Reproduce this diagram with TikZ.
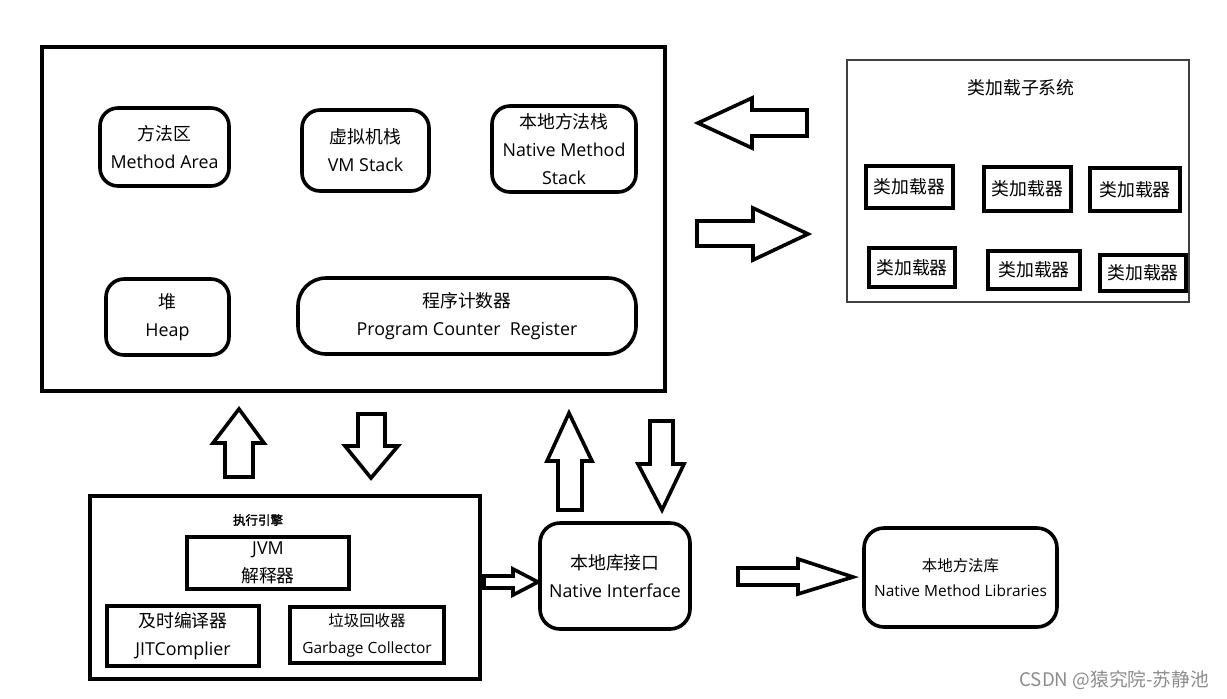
\documentclass[tikz,border=0pt]{standalone}
\usepackage{fontspec}
\setmainfont{Open Sans}
\newfontfamily\cjk{Noto Sans CJK SC}
\newfontfamily\cjkbold[FakeBold=2]{Noto Sans CJK SC}

\begin{document}
\begin{tikzpicture}[x=0.25mm, y=-0.25mm,
    frame/.style={draw, line width=1mm},
    area/.style={draw, line width=0.9mm, rounded corners=4.5mm, align=center, inner sep=1pt, font=\fontsize{12.7}{20}\selectfont},
    sqbox/.style={draw, line width=1mm, align=center, inner sep=1pt, font=\fontsize{12.7}{19.5}\selectfont},
    loader/.style={draw, line width=1mm, inner sep=0pt, font=\cjk\fontsize{12.7}{15}\selectfont},
    blockarrow/.style={draw, line width=0.9mm, line join=miter}]
	\useasboundingbox (0,0) rectangle (1227,698);

	\node[frame, minimum width=155.75mm, minimum height=86mm] (rda) at (353.5,219) {};
	\node[area, minimum width=32.25mm, minimum height=19.5mm] (method) at (164.5,147) {{\cjk 方法区}\\Method Area};
	\node[area, minimum width=31.75mm, minimum height=20.25mm] (vmstack) at (365.5,150.5) {{\cjk 虚拟机栈}\\VM Stack};
	\node[area, minimum width=36mm, minimum height=21.5mm] (nstack) at (564,149) {{\cjk 本地方法栈}\\Native Method\\Stack};
	\node[area, minimum width=30.75mm, minimum height=19mm] (heap) at (167.5,317) {{\cjk 堆}\\Heap};
	\node[area, rounded corners=7mm, minimum width=84.5mm, minimum height=19mm] (pcr) at (467,316) {{\cjk 程序计数器}\\Program Counter\ \ Register};

	\node[draw=black!75, line width=0.4mm, minimum width=85.5mm, minimum height=60.5mm] (cls) at (1018,181) {};
	\node[font=\cjk\fontsize{12.7}{15}\selectfont] (clstitle) at (1021,88) {类加载子系统};
	\node[loader, minimum width=21.75mm, minimum height=10.5mm] (l1) at (909.5,187) {类加载器};
	\node[loader, minimum width=21.75mm, minimum height=11mm] (l2) at (1027.5,189) {类加载器};
	\node[loader, minimum width=22.5mm, minimum height=10.75mm] (l3) at (1135,189.5) {类加载器};
	\node[loader, minimum width=21.5mm, minimum height=9.75mm] (l4) at (912,267.5) {类加载器};
	\node[loader, minimum width=23mm, minimum height=9.5mm] (l5) at (1034,270) {类加载器};
	\node[loader, minimum width=21.5mm, minimum height=9mm] (l6) at (1143,273) {类加载器};

	\node[frame, minimum width=97.5mm, minimum height=45.75mm] (engine) at (285,587.5) {};
	\node[font=\cjkbold\fontsize{8.9}{10}\selectfont] (etitle) at (258,520) {执行引擎};
	\node[sqbox, minimum width=40.5mm, minimum height=13mm] (jvm) at (268,563) {JVM\\{\cjk 解释器}};
	\node[sqbox, minimum width=38mm, minimum height=15mm] (jit) at (183,636) {{\cjk 及时编译器}\\JITComplier};
	\node[sqbox, font=\fontsize{11}{19}\selectfont, minimum width=38.5mm, minimum height=14mm] (gc) at (367,635) {{\cjk 垃圾回收器}\\Garbage Collector};

	\node[area, rounded corners=5mm, minimum width=37.5mm, minimum height=26.5mm] (ni) at (615,576) {{\cjk 本地库接口}\\Native Interface};
	\node[area, font=\fontsize{11}{18}\selectfont, rounded corners=5mm, minimum width=48.25mm, minimum height=24.75mm] (nml) at (960.5,577.5) {{\cjk 本地方法库}\\Native Method Libraries};

	\draw[blockarrow] (698,123) -- (752,98) -- (752,110) -- (807,110) -- (807,136) -- (752,136) -- (752,148) -- cycle;
	\draw[blockarrow] (808,234) -- (753,208) -- (753,221) -- (697,221) -- (697,246) -- (753,246) -- (753,260) -- cycle;
	\draw[blockarrow] (239,409) -- (264,443) -- (253,443) -- (253,477) -- (225,477) -- (225,443) -- (213,443) -- cycle;
	\draw[blockarrow] (371,478) -- (398,446) -- (385,446) -- (385,414) -- (358,414) -- (358,446) -- (345,446) -- cycle;
	\draw[blockarrow] (569,413) -- (592,461) -- (582,461) -- (582,510) -- (558,510) -- (558,461) -- (547,461) -- cycle;
	\draw[blockarrow] (662,510) -- (684,464) -- (673,464) -- (673,421) -- (650,421) -- (650,464) -- (638,464) -- cycle;
	\draw[blockarrow] (538,582) -- (513,569) -- (513,576) -- (484,576) -- (484,588) -- (513,588) -- (513,595) -- cycle;
	\draw[blockarrow] (853,577) -- (798,559) -- (798,568) -- (738,568) -- (738,585) -- (798,585) -- (798,594) -- cycle;

	\node[font=\cjk\fontsize{13.3}{16}\selectfont, text=black!45, anchor=east] (mark) at (1214,680) {CSDN @猿究院-苏静池};
\end{tikzpicture}
\end{document}
